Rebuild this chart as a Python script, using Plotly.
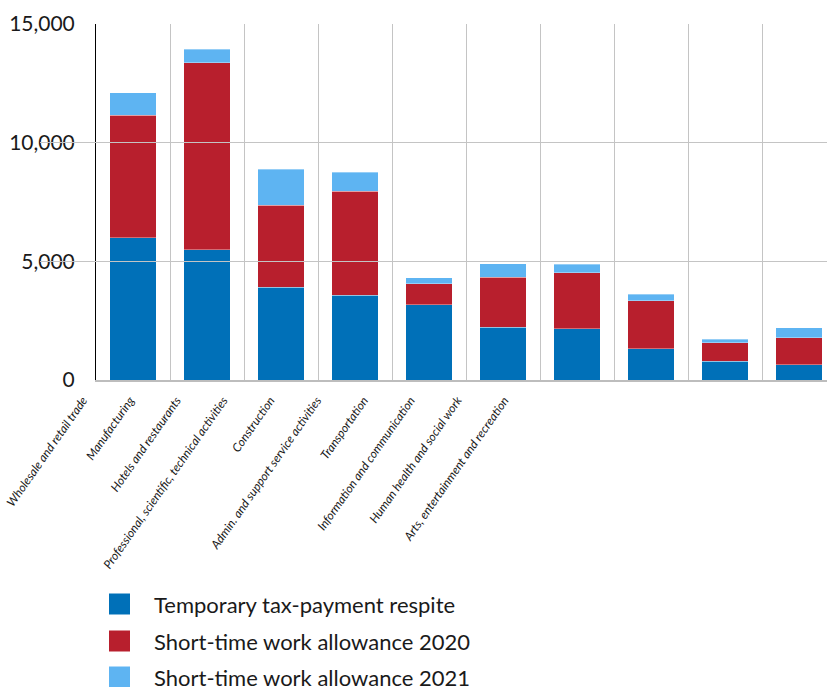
import plotly.graph_objects as go

categories = [
    "Wholesale and retail trade", "Manufacturing", "Hotels and restaurants",
    "Professional, scientific, technical activities", "Construction",
    "Admin. and support service activities", "Transportation",
    "Information and communication", "Human health and social work",
    "Arts, entertainment and recreation",
]
tax_respite = [6000, 5480, 3900, 3570, 3175, 2220, 2165, 1320, 790, 645]
stw_2020 = [5165, 7880, 3470, 4390, 885, 2120, 2360, 2020, 785, 1125]
stw_2021 = [940, 575, 1515, 790, 240, 560, 350, 280, 140, 435]
series_names = ["Temporary tax-payment respite", "Short-time work allowance 2020",
                "Short-time work allowance 2021"]
colors = ["#0070B8", "#B81F2D", "#5EB4F2"]
y_ticks = [0, 5000, 10000, 15000]

FONT = "Lato"
W, H = 827, 687
ML, MR, MT, MB = 40, 0, 24, 307
pw = W - ML - MR
ph = H - MT - MB

fig = go.Figure()
for name, vals, c in zip(series_names, [tax_respite, stw_2020, stw_2021], colors):
    fig.add_trace(go.Bar(
        x=categories, y=vals, name=name, marker_color=c, width=0.63,
        marker_line=dict(color="rgba(255,255,255,0.35)", width=1),
        showlegend=False,
    ))

# invisible trace carrying the rotated category labels
fig.add_trace(go.Scatter(x=categories, y=[None] * len(categories), xaxis="x2",
                         yaxis="y", showlegend=False, hoverinfo="skip"))

x0_px = 96
main_dom0 = (x0_px - ML) / pw
lab_w = 46.8
lab_c0 = 83
lab_r0 = (ML - lab_c0) / lab_w
lab_end_px = lab_c0 + 9.5 * lab_w
lab_dom1 = (lab_end_px - ML) / pw

fig.update_layout(
    width=W, height=H, barmode="stack",
    margin=dict(l=ML, r=MR, t=MT, b=MB),
    plot_bgcolor="rgba(0,0,0,0)", paper_bgcolor="white",
    font=dict(family=FONT, color="#1a1a1a"),
    xaxis=dict(
        type="category", domain=[main_dom0, 1], range=[-0.5, 9.5 - 9 / 74],
        showticklabels=False, tickson="boundaries", ticks="",
        showgrid=True, gridcolor="#C4C4C4", gridwidth=1,
        showline=True, linecolor="#BDBDBD", linewidth=1.5,
    ),
    xaxis2=dict(
        type="category", domain=[0, lab_dom1], range=[lab_r0, 9.5],
        anchor="y", showgrid=False, showline=False, ticks="",
        tickangle=-55, ticklabelstandoff=10,
        tickfont=dict(family=FONT, size=12, color="#1a1a1a", style="italic"),
        categoryorder="array", categoryarray=categories,
    ),
    yaxis=dict(
        range=[0, 15000], tickvals=y_ticks, tickformat=",d",
        showgrid=True, gridcolor="#C4C4C4", gridwidth=1,
        showline=True, linecolor="black", linewidth=1,
        ticks="inside", ticklen=7, tickcolor="black",
        tickfont=dict(family=FONT, size=21, color="#1a1a1a"),
        ticklabelstandoff=16, zeroline=False,
    ),
)

# custom legend (large square swatches)
rows_py = [604, 641, 677]
shapes, annos = [], []
for name, c, py in zip(series_names, colors, rows_py):
    y_c = (MT + ph - py) / ph
    half = 10.5 / ph
    shapes.append(dict(type="rect", xref="paper", yref="paper",
                       x0=(109 - ML) / pw, x1=(130 - ML) / pw,
                       y0=y_c - half, y1=y_c + half,
                       fillcolor=c, line=dict(width=0)))
    annos.append(dict(xref="paper", yref="paper", x=(152 - ML) / pw, y=y_c,
                      xanchor="left", yanchor="middle", showarrow=False,
                      text=name, font=dict(family=FONT, size=22, color="#1a1a1a")))
fig.update_layout(shapes=shapes, annotations=annos)

fig.write_html("out.html")
